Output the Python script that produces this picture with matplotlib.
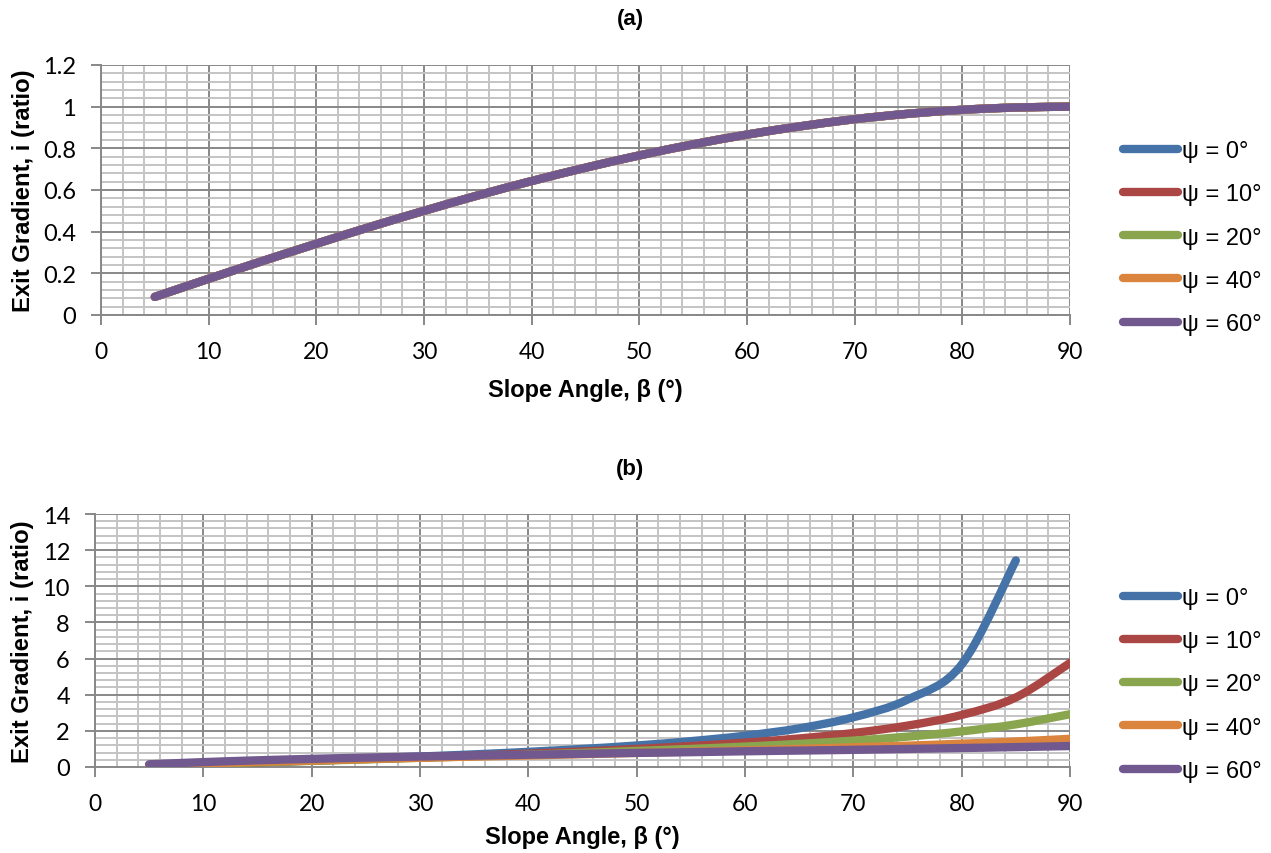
import matplotlib
matplotlib.use("Agg")
import matplotlib.pyplot as plt
from matplotlib.ticker import MultipleLocator
from matplotlib.lines import Line2D
from matplotlib.path import Path
from matplotlib.patches import PathPatch
import numpy as np

# ---------------- data ----------------
beta = [5, 10, 15, 20, 25, 30, 35, 40, 45, 50, 55, 60, 65, 70, 75, 80, 85, 90]
labels = ["ψ = 0°", "ψ = 10°", "ψ = 20°", "ψ = 40°", "ψ = 60°"]
colors = ["#4572A7", "#AA4643", "#89A54E", "#DB843D", "#71588F"]

# panel (a): all series coincide
a_values = [0.087, 0.174, 0.259, 0.342, 0.423, 0.500, 0.574, 0.643, 0.707,
            0.766, 0.819, 0.866, 0.906, 0.940, 0.966, 0.985, 0.996, 1.000]
a_series = [a_values, a_values, a_values, a_values, a_values]

# panel (b)
b_psi0 = [0.09, 0.18, 0.27, 0.36, 0.47, 0.58, 0.70, 0.84, 1.00, 1.19, 1.43,
          1.73, 2.14, 2.75, 3.73, 5.67, 11.43]
b_psi10 = [0.09, 0.17, 0.26, 0.35, 0.44, 0.53, 0.63, 0.74, 0.86, 1.00, 1.16,
           1.35, 1.58, 1.88, 2.29, 2.88, 3.85, 5.76]
b_psi20 = [0.09, 0.18, 0.26, 0.34, 0.42, 0.51, 0.59, 0.68, 0.78, 0.89, 1.00,
           1.13, 1.28, 1.46, 1.68, 1.97, 2.36, 2.92]
b_psi40 = [0.11, 0.20, 0.29, 0.36, 0.44, 0.51, 0.58, 0.64, 0.71, 0.78, 0.85,
           0.92, 1.00, 1.09, 1.18, 1.29, 1.41, 1.56]
b_psi60 = [0.15, 0.27, 0.37, 0.45, 0.52, 0.58, 0.63, 0.68, 0.73, 0.78, 0.82,
           0.87, 0.91, 0.95, 1.00, 1.05, 1.10, 1.16]
b_series = [b_psi0, b_psi10, b_psi20, b_psi40, b_psi60]

x_ticks = [0, 10, 20, 30, 40, 50, 60, 70, 80, 90]
a_yticks = [0, 0.2, 0.4, 0.6, 0.8, 1.0, 1.2]
a_yticklabels = ["0", "0.2", "0.4", "0.6", "0.8", "1", "1.2"]
b_yticks = [0, 2, 4, 6, 8, 10, 12, 14]

# ---------------- figure ----------------
W, H = 1271, 854
fig = plt.figure(figsize=(W / 100, H / 100), dpi=100)

def px_axes(l, r, t, b):
    return fig.add_axes([l / W, 1 - b / H, (r - l) / W, (b - t) / H])

tick_font = "Lato"
lab_font = "Liberation Sans"
LW = 6.0

def style(ax, ymax, yminor, yticks, yticklabels, xlabelpad):
    ax.set_xlim(0, 90)
    ax.set_ylim(0, ymax)
    ax.xaxis.set_minor_locator(MultipleLocator(2))
    ax.yaxis.set_minor_locator(MultipleLocator(yminor))
    ax.set_xticks(x_ticks)
    ax.set_yticks(yticks)
    ax.set_xticklabels([str(v) for v in x_ticks], fontfamily=tick_font, fontsize=16.5)
    ax.set_yticklabels(yticklabels, fontfamily=tick_font, fontsize=17)
    ax.grid(which="minor", color="#c4c4c4", linewidth=1.4, zorder=0)
    ax.grid(which="major", color="#888888", linewidth=1.4, zorder=0)
    ax.set_axisbelow(True)
    for s in ["top", "right"]:
        ax.spines[s].set_visible(False)
    for s in ["left", "bottom"]:
        ax.spines[s].set_color("#888888")
        ax.spines[s].set_linewidth(1.4)
    ax.tick_params(which="major", length=7, width=1.4, color="#888888")
    ax.tick_params(axis="x", which="major", pad=11.5)
    ax.tick_params(axis="y", which="major", pad=11)
    ax.tick_params(which="minor", length=0)
    ax.set_xlabel("Slope Angle, β (°)", fontfamily=lab_font, fontweight="bold",
                  fontsize=17, labelpad=xlabelpad)
    ax.set_ylabel("Exit Gradient, i (ratio)", fontfamily=lab_font, fontweight="bold",
                  fontsize=17.2, labelpad=6)

def smooth_line(ax, xs, ys, color):
    """Draw a line through the data points as a smoothed Bezier path (Excel-like)."""
    pts = ax.transData.transform(np.column_stack([xs, ys]))
    n = len(pts)
    verts = [pts[0]]
    codes = [Path.MOVETO]
    for i in range(n - 1):
        p0 = pts[i - 1] if i > 0 else pts[i]
        p1 = pts[i]
        p2 = pts[i + 1]
        p3 = pts[i + 2] if i + 2 < n else pts[i + 1]
        c1 = p1 + (p2 - p0) / 6.0
        c2 = p2 - (p3 - p1) / 6.0
        verts += [c1, c2, p2]
        codes += [Path.CURVE4] * 3
    verts = ax.transData.inverted().transform(np.array(verts))
    patch = PathPatch(Path(verts, codes), facecolor="none", edgecolor=color,
                      lw=LW, capstyle="round", joinstyle="round", zorder=3,
                      transform=ax.transData)
    ax.add_patch(patch)

def legend(ax, top_px):
    handles = [Line2D([0], [0], color=c, lw=6, solid_capstyle="round") for c in colors]
    ax.legend(handles, labels, loc="upper left",
              bbox_to_anchor=(1123 / W, 1 - top_px / H), bbox_transform=fig.transFigure,
              frameon=False, handlelength=2.35, handletextpad=0.15, labelspacing=0.9,
              borderaxespad=0, borderpad=0, prop={"family": lab_font, "size": 17})

# panel (a)
axa = px_axes(101, 1070, 66, 316)
style(axa, 1.2, 0.04, a_yticks, a_yticklabels, 12)
for vals, c in zip(a_series, colors):
    smooth_line(axa, beta[:len(vals)], vals, c)
legend(axa, 141)

# panel (b)
axb = px_axes(95, 1070, 515, 768)
style(axb, 14, 0.4, b_yticks, [str(v) for v in b_yticks], 8)
for vals, c in zip(b_series, colors):
    smooth_line(axb, beta[:len(vals)], vals, c)
legend(axb, 588)

fig.text(630 / W, 1 - 20 / H, "(a)", ha="center", va="center",
         fontfamily=lab_font, fontweight="bold", fontsize=16)
fig.text(630 / W, 1 - 470 / H, "(b)", ha="center", va="center",
         fontfamily=lab_font, fontweight="bold", fontsize=16)

fig.savefig("out.png", dpi=100)
